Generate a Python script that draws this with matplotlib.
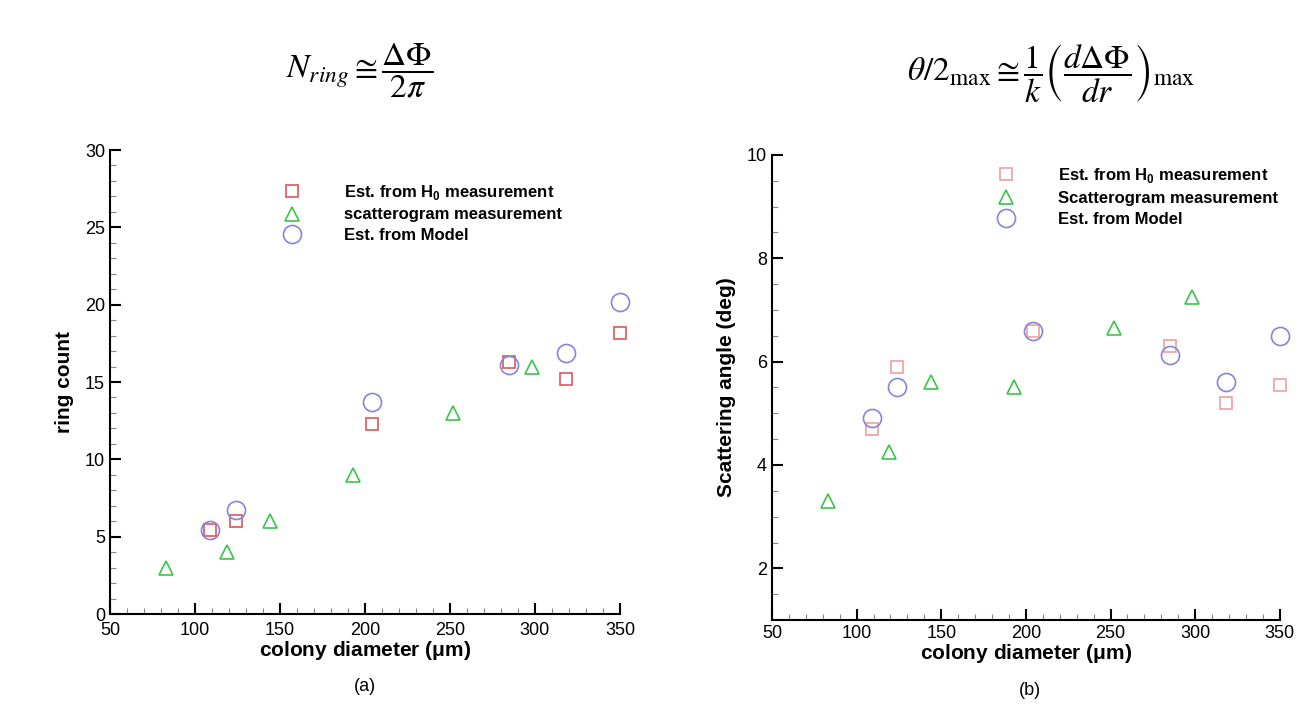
import matplotlib
matplotlib.use('Agg')
import matplotlib.pyplot as plt
from matplotlib.ticker import MultipleLocator

plt.rcParams['font.family'] = ['Liberation Sans', 'DejaVu Sans']
plt.rcParams['mathtext.fontset'] = 'custom'
plt.rcParams['mathtext.rm'] = 'Liberation Sans'
plt.rcParams['mathtext.bf'] = 'Liberation Sans:bold'

# colony diameters (um)
d_sq = [109, 124, 204, 285, 318, 350]
d_tri = [83, 119, 144, 193, 252, 298]
d_circ = [109, 124, 204, 285, 318, 350]

# (a) ring count
ring_h0 = [5.4, 6.0, 12.3, 16.3, 15.2, 18.2]
ring_scat = [3.0, 4.0, 6.0, 9.0, 13.0, 16.0]
ring_model = [5.4, 6.7, 13.7, 16.1, 16.9, 20.2]

# (b) scattering angle (deg)
ang_h0 = [4.7, 5.9, 6.6, 6.3, 5.2, 5.55]
ang_scat = [3.3, 4.25, 5.6, 5.5, 6.65, 7.25]
ang_model = [4.9, 5.5, 6.6, 6.12, 5.6, 6.5]

labels_a = ['Est. from H$_\\mathbf{0}$ measurement', 'scatterogram measurement', 'Est. from Model']
labels_b = ['Est. from H$_\\mathbf{0}$ measurement', 'Scatterogram measurement', 'Est. from Model']

red = '#e05555'
pink = '#f0a0a0'
green = '#3cc44a'
blue = '#8585e0'

fig = plt.figure(figsize=(13.14, 7.06), dpi=100)
ax1 = fig.add_axes([0.0837, 0.1303, 0.3881, 0.6572])
ax2 = fig.add_axes([0.5875, 0.1218, 0.3865, 0.6587])


def style(ax):
    for s in ['top', 'right']:
        ax.spines[s].set_visible(False)
    for s in ['left', 'bottom']:
        ax.spines[s].set_linewidth(1.5)
    ax.tick_params(which='major', direction='in', length=8, width=1.5, labelsize=13)
    ax.tick_params(which='minor', direction='in', length=4, width=0.8, color='#888888')
    ax.xaxis.set_major_locator(MultipleLocator(50))
    ax.xaxis.set_minor_locator(MultipleLocator(10))
    ax.set_xlim(50, 350)
    ax.set_xlabel('colony diameter ($\\mathbf{\\mu}$m)', fontsize=15, fontweight='bold', labelpad=0)


def plot_series(ax, sq_y, sq_c, tri_y, circ_y, labels, lx, ly):
    ax.plot(d_sq, sq_y, ls='none', marker='s', ms=9, mfc='none', mec=sq_c, mew=1.2, label=labels[0], clip_on=False)
    ax.plot(d_tri, tri_y, ls='none', marker='^', ms=10, mfc='none', mec=green, mew=1.2, label=labels[1], clip_on=False)
    ax.plot(d_circ, circ_y, ls='none', marker='o', ms=13, mfc='none', mec=blue, mew=1.2, label=labels[2], clip_on=False)
    leg = ax.legend(loc='upper left', bbox_to_anchor=(lx, ly), frameon=False, handletextpad=2.6,
                    handlelength=1.0, labelspacing=0.35, prop={'weight': 'bold', 'size': 12})
    return leg


style(ax1)
plot_series(ax1, ring_h0, red, ring_scat, ring_model, labels_a, 0.312, 0.962)
ax1.set_ylim(0, 30)
ax1.yaxis.set_major_locator(MultipleLocator(5))
ax1.yaxis.set_minor_locator(MultipleLocator(1))
ax1.set_ylabel('ring count', fontsize=15, fontweight='bold', labelpad=8)
# push the x labels down a touch so "0" and "50" don't collide
ax1.tick_params(axis='x', which='major', pad=5.5)

style(ax2)
plot_series(ax2, ang_h0, pink, ang_scat, ang_model, labels_b, 0.415, 1.008)
ax2.set_ylim(1, 10)
ax2.set_yticks([2, 4, 6, 8, 10])
ax2.yaxis.set_minor_locator(MultipleLocator(0.5))
ax2.set_ylabel('Scattering angle (deg)', fontsize=15, fontweight='bold', labelpad=8)

fig.text(0.274, 0.90, r'$N_{ring} \cong \dfrac{\Delta\Phi}{2\pi}$', fontsize=24,
         ha='center', va='center', math_fontfamily='stix')
fig.text(0.80, 0.895, r'$\theta/2_{\max} \cong \dfrac{1}{k}\left(\dfrac{d\Delta\Phi}{dr}\right)_{\max}$',
         fontsize=24, ha='center', va='center', math_fontfamily='stix')

fig.text(0.278, 0.028, '(a)', fontsize=13, ha='center', va='center')
fig.text(0.784, 0.022, '(b)', fontsize=13, ha='center', va='center')

fig.savefig('out.png', dpi=100)
